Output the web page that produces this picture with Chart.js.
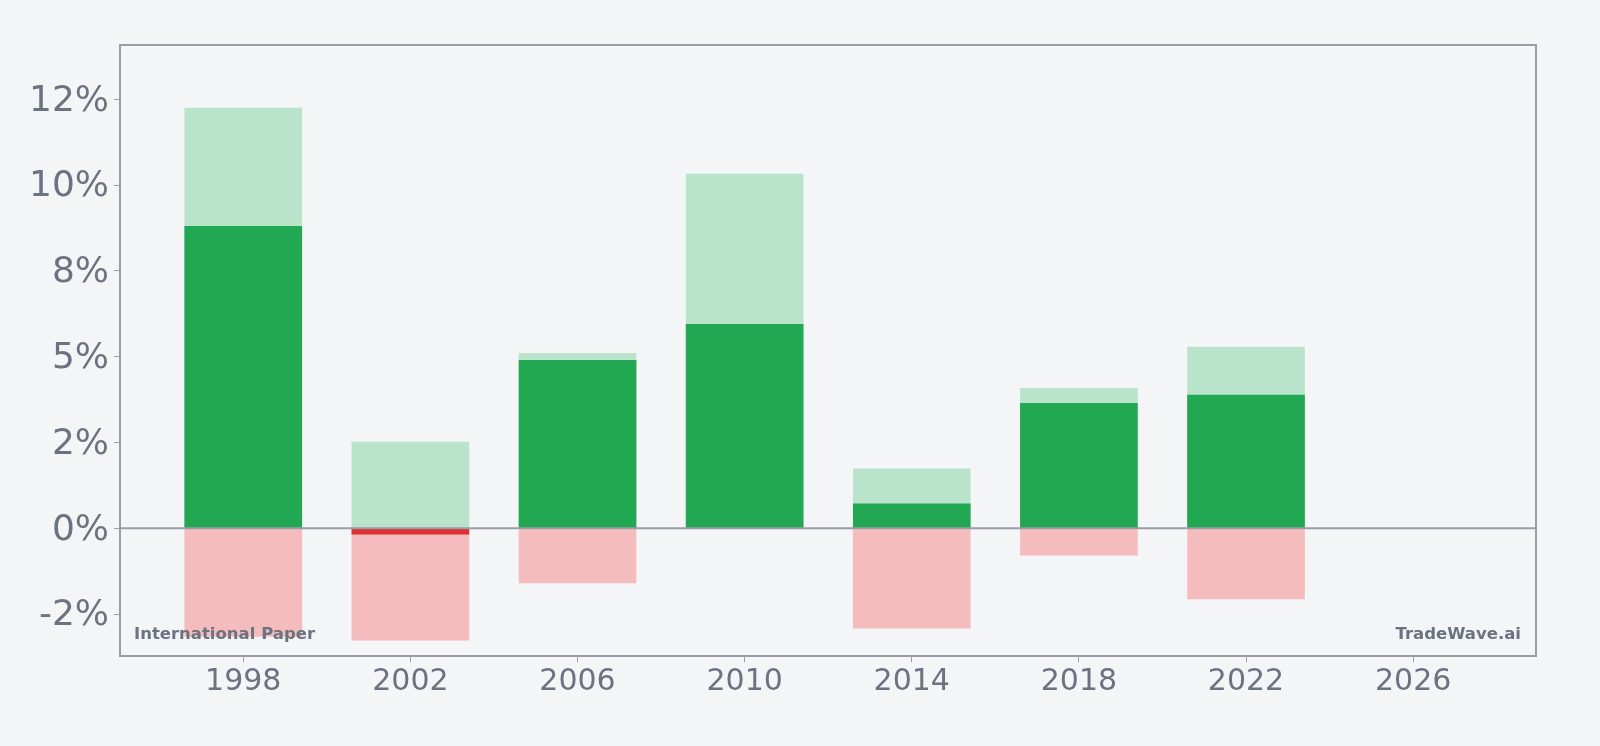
<!DOCTYPE html>
<html>
<head>
<meta charset="utf-8">
<script src="https://cdn.jsdelivr.net/npm/chart.js@4/dist/chart.umd.min.js"></script>
<style>
  html, body { margin: 0; padding: 0; background: #f4f5f7; }
  #wrap { width: 1600px; height: 746px; }
</style>
</head>
<body>
<div id="wrap"><canvas id="chart-bar"></canvas></div>
<script>
// values in %
const years = [1998, 2002, 2006, 2010, 2014, 2018, 2022]
const value = [8.80, -0.17, 4.89, 5.94, 0.71, 3.64, 3.88]
const high = [12.24, 2.51, 5.10, 10.32, 1.73, 4.08, 5.28]
const low = [-3.15, -3.26, -1.59, 0, -2.91, -0.78, -2.06]

const xTicks = [1998, 2002, 2006, 2010, 2014, 2018, 2022, 2026]
const yTicks = [-2.5, 0, 2.5, 5, 7.5, 10, 12.5]
const yLabels = ['-2%', '0%', '2%', '5%', '8%', '10%', '12%']

const gray = '#6b7280'
const frame = '#9a9ca6'

const pts = arr => years.map((y, i) => ({ x: y, y: arr[i] }))

const framePlugin = {
	id: 'frame',
	afterDatasetsDraw(chart) {
		const ctx = chart.ctx, a = chart.chartArea
		const y0 = chart.scales.y.getPixelForValue(0)
		ctx.save()
		ctx.strokeStyle = frame
		ctx.lineWidth = 2
		ctx.beginPath()
		ctx.moveTo(a.left, y0)
		ctx.lineTo(a.right, y0)
		ctx.stroke()
		ctx.strokeRect(a.left, a.top, a.right - a.left, a.bottom - a.top)
		ctx.fillStyle = gray
		ctx.font = 'bold 16.5px "DejaVu Sans"'
		ctx.textBaseline = 'middle'
		ctx.textAlign = 'left'
		ctx.fillText('International Paper', a.left + 14, a.bottom - 21)
		ctx.textAlign = 'right'
		ctx.fillText('TradeWave.ai', a.right - 15, a.bottom - 21)
		ctx.restore()
	}
}

new Chart(document.getElementById('chart-bar'), {
	type: 'bar',
	data: {
		datasets: [
			{
				data: pts(value),
				backgroundColor: value.map(v => v >= 0 ? '#22a753' : '#dc3035'),
				order: 0
			},
			{
				data: pts(high),
				backgroundColor: '#b9e4cb',
				order: 1
			},
			{
				data: pts(low),
				backgroundColor: '#f4bcbc',
				order: 1
			}
		]
	},
	options: {
		responsive: true,
		maintainAspectRatio: false,
		animation: false,
		events: [],
		layout: { padding: { top: 45, right: 64, left: 0, bottom: 0 } },
		datasets: {
			bar: {
				grouped: false,
				barThickness: 117,
				borderWidth: 0
			}
		},
		scales: {
			x: {
				type: 'linear',
				offset: false,
				min: 1995.05,
				max: 2028.94,
				afterBuildTicks: s => { s.ticks = xTicks.map(v => ({ value: v })) },
				afterFit: s => { s.height = 90 },
				border: { display: false },
				grid: { offset: false, drawOnChartArea: false, tickLength: 6, tickColor: frame, lineWidth: 1 },
				ticks: {
					color: gray,
					font: { family: 'DejaVu Sans', size: 30 },
					padding: 2,
					maxRotation: 0,
					callback: v => String(v)
				}
			},
			y: {
				min: -3.72,
				max: 14.08,
				afterBuildTicks: s => { s.ticks = yTicks.map(v => ({ value: v })) },
				afterFit: s => { s.width = 120 },
				border: { display: false },
				grid: { drawOnChartArea: false, tickLength: 6, tickColor: frame, lineWidth: 1 },
				ticks: {
					color: gray,
					font: { family: 'DejaVu Sans', size: 36 },
					padding: 5,
					labelOffset: 2,
					callback: v => yLabels[yTicks.indexOf(v)]
				}
			}
		},
		plugins: {
			legend: { display: false },
			tooltip: { enabled: false }
		}
	},
	plugins: [framePlugin]
})
</script>
</body>
</html>
